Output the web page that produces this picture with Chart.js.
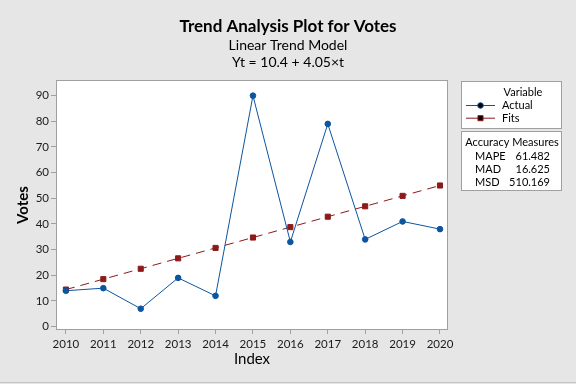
<!DOCTYPE html>
<html>
<head>
<meta charset="utf-8">
<script src="https://cdn.jsdelivr.net/npm/chart.js@4.4.1/dist/chart.umd.min.js"></script>
<style>
  html, body { margin: 0; padding: 0; background: #e6e6e6; }
  canvas { display: block; }
</style>
</head>
<body>
<canvas id="trend" width="576" height="384"></canvas>
<script>
const years = [2010, 2011, 2012, 2013, 2014, 2015, 2016, 2017, 2018, 2019, 2020];
const actual = [14, 15, 7, 19, 12, 90, 33, 79, 34, 41, 38];
const fits = [14.45, 18.51, 22.56, 26.62, 30.67, 34.73, 38.78, 42.84, 46.89, 50.95, 55.0];
const yTicks = [0, 10, 20, 30, 40, 50, 60, 70, 80, 90];
const titleLines = ["Trend Analysis Plot for Votes", "Linear Trend Model", "Yt = 10.4 + 4.05×t"];
const accuracyLabels = ["MAPE", "MAD", "MSD"];
const accuracyValues = ["61.482", "16.625", "510.169"];

const FONT = "Lato, 'Noto Sans', sans-serif";
const BLUE = "#0d55a0";
const RED = "#8c1a1a";

// background, plot frame, titles and the side panel (legend + accuracy box)
const framePlugin = {
  id: "frame",
  beforeDraw(chart) {
    const { ctx, chartArea: a } = chart;
    ctx.save();
    ctx.fillStyle = "#e6e6e6";
    ctx.fillRect(0, 0, chart.width, chart.height);
    ctx.fillStyle = "#fff";
    ctx.fillRect(a.left, a.top, a.right - a.left, a.bottom - a.top);
    ctx.restore();
  },
  afterDraw(chart) {
    const { ctx, chartArea: a } = chart;
    ctx.save();
    ctx.strokeStyle = "#a0a0a0";
    ctx.lineWidth = 1;
    ctx.strokeRect(a.left + 0.5, a.top + 0.5, a.right - a.left - 1, a.bottom - a.top - 1);

    ctx.fillStyle = "#000";
    ctx.textAlign = "center";
    ctx.textBaseline = "middle";
    ctx.font = `bold 17px ${FONT}`;
    ctx.fillText(titleLines[0], 288, 27);
    ctx.font = `14px ${FONT}`;
    ctx.fillText(titleLines[1], 288, 45);
    ctx.fillText(titleLines[2], 288, 62);

    // legend box
    ctx.fillStyle = "#fff";
    ctx.fillRect(462, 82, 99, 47);
    ctx.strokeStyle = "#a0a0a0";
    ctx.strokeRect(461.5, 81.5, 100, 47);
    ctx.fillStyle = "#000";
    ctx.font = `11px ${FONT}`;
    ctx.textAlign = "center";
    ctx.fillText("Variable", 523, 92);
    ctx.textAlign = "left";
    chart.data.datasets.forEach((ds, i) => {
      const y = 105.5 + i * 12.7;
      ctx.strokeStyle = ds.borderColor;
      ctx.lineWidth = 1;
      ctx.setLineDash([]);
      ctx.beginPath();
      ctx.moveTo(466, y);
      ctx.lineTo(495, y);
      ctx.stroke();
      Chart.helpers.drawPoint(ctx, {
        pointStyle: ds.pointStyle,
        radius: ds.pointRadius,
        borderWidth: 1,
      }, 480.5, y);
      ctx.fillStyle = "#000";
      ctx.fillText(ds.label, 502, y);
    });

    // accuracy measures box
    ctx.fillStyle = "#fff";
    ctx.fillRect(462, 132, 99, 58);
    ctx.strokeStyle = "#a0a0a0";
    ctx.strokeRect(461.5, 131.5, 100, 59);
    ctx.fillStyle = "#000";
    ctx.textAlign = "center";
    ctx.fillText("Accuracy Measures", 512, 142.5);
    accuracyLabels.forEach((lab, i) => {
      const y = 156 + i * 13;
      ctx.textAlign = "left";
      ctx.fillText(lab, 475, y);
      ctx.textAlign = "right";
      ctx.fillText(accuracyValues[i], 550, y);
    });

    ctx.strokeStyle = "#c4c4c4";
    ctx.beginPath();
    ctx.moveTo(0, 382.5);
    ctx.lineTo(576, 382.5);
    ctx.stroke();
    ctx.restore();
  },
};

new Chart(document.getElementById("trend"), {
  type: "line",
  data: {
    datasets: [
      {
        label: "Actual",
        data: years.map((x, i) => ({ x, y: actual[i] })),
        borderColor: BLUE,
        backgroundColor: BLUE,
        borderWidth: 1,
        pointStyle: "circle",
        pointRadius: 2.8,
        pointBorderWidth: 1,
        tension: 0,
      },
      {
        label: "Fits",
        data: years.map((x, i) => ({ x, y: fits[i] })),
        borderColor: RED,
        backgroundColor: RED,
        borderWidth: 1,
        borderDash: [9, 6],
        pointStyle: "rect",
        pointRadius: 3.6,
        pointBorderWidth: 1,
        tension: 0,
      },
    ],
  },
  options: {
    responsive: false,
    animation: false,
    layout: { padding: { top: 80, right: 128, left: 0, bottom: 0 } },
    scales: {
      x: {
        type: "linear",
        min: 2009.735,
        max: 2020.214,
        afterFit: (s) => { s.height = 54; },
        afterBuildTicks: (s) => { s.ticks = years.map((v) => ({ value: v })); },
        grid: { drawOnChartArea: false, drawTicks: true, tickLength: 4, color: "#a0a0a0" },
        border: { display: false },
        ticks: {
          color: "#1a1a1a",
          font: { family: FONT, size: 11.5 },
          padding: 3,
          maxRotation: 0,
          autoSkip: false,
          callback: (v) => String(v),
        },
        title: {
          display: true,
          text: "Index",
          color: "#000",
          font: { family: FONT, size: 15 },
          padding: { top: 0, bottom: 16 },
        },
      },
      y: {
        min: -1.3,
        max: 96.1,
        afterFit: (s) => { s.width = 56; },
        afterBuildTicks: (s) => { s.ticks = yTicks.map((v) => ({ value: v })); },
        grid: { drawOnChartArea: false, drawTicks: true, tickLength: 5, color: "#a0a0a0" },
        border: { display: false },
        ticks: {
          color: "#1a1a1a",
          font: { family: FONT, size: 11.5 },
          padding: 2,
        },
        title: {
          display: true,
          text: "Votes",
          color: "#000",
          font: { family: FONT, size: 15, weight: "bold" },
          padding: { top: 14, bottom: 0 },
        },
      },
    },
    plugins: {
      legend: { display: false },
      tooltip: { enabled: false },
    },
  },
  plugins: [framePlugin],
});
</script>
</body>
</html>
